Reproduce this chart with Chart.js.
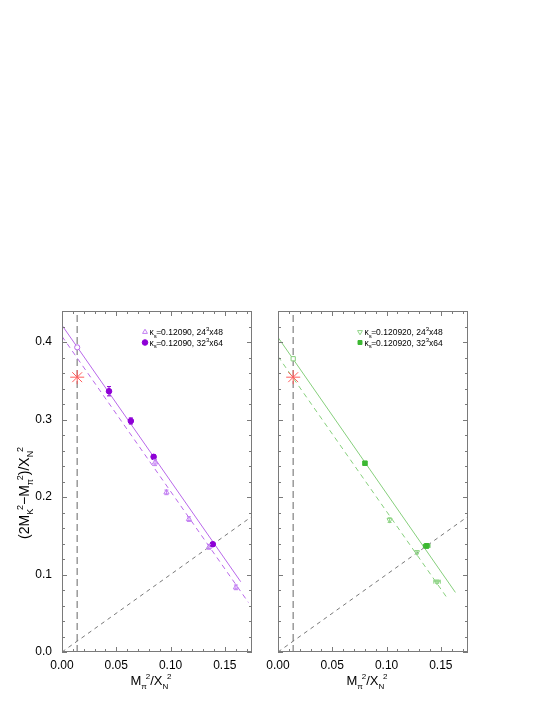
<!DOCTYPE html>
<html lang="en">
<head>
<meta charset="UTF-8">
<title>Chiral fit</title>
<script src="https://cdn.jsdelivr.net/npm/chart.js"></script>
<style>
  body { margin: 0; background: #fff; }
  #wrap { position: relative; width: 545px; height: 705px; }
  canvas { position: absolute; left: 0; top: 0; }
</style>
</head>
<body>
<div id="wrap">
  <canvas id="left" width="545" height="705"></canvas>
  <canvas id="right" width="545" height="705"></canvas>
</div>
<script>
// ---- data ----
const xTicks = [0.00, 0.05, 0.10, 0.15];
const yTicks = [0.0, 0.1, 0.2, 0.3, 0.4];
const physX = 0.0140;          // vertical dashed line, physical point
const starY = [0.3546];        // experimental value (red star)
const diagX = [0.0, 0.175];    // black dashed diagonal (symmetric point)
const diagY = [0.0, 0.175];

// left panel, kappa_s = 0.12090
const l24X = [0.0857, 0.0962, 0.1169, 0.1354, 0.1602];
const l24Y = [0.2445, 0.2060, 0.1715, 0.1356, 0.0834];
const l24Err = [0.004, 0.003, 0.003, 0.003, 0.003];
const l32X = [0.0433, 0.0634, 0.0844, 0.1389];
const l32Y = [0.3365, 0.2981, 0.2518, 0.1391];
const l32Err = [0.006, 0.004, 0.003, 0.002];
const lExtrapY = [0.3931];
const lFitSolidX = [0.0, 0.1646];
const lFitSolidY = [0.4216, 0.0907];
const lFitDashX = [0.0, 0.1717];
const lFitDashY = [0.4073, 0.0639];

// right panel, kappa_s = 0.120920
const r24X = [0.1028, 0.1280, 0.1465];
const r24Y = [0.1702, 0.1287, 0.0907];
const r24Err = [0.003, 0.002, 0.002];
const r24ErrX = [0.0, 0.0, 0.003];
const r32X = [0.0801, 0.1369];
const r32Y = [0.2436, 0.1369];
const r32Err = [0.002, 0.003];
const r32ErrX = [0.0, 0.003];
const rExtrapY = [0.3784];
const rFitSolidX = [0.0, 0.1634];
const rFitSolidY = [0.4060, 0.0769];
const rFitDashX = [0.0, 0.1548];
const rFitDashY = [0.3814, 0.0717];

const FONT = "'Liberation Sans', Arial, Helvetica, sans-serif";
const pts = (xs, ys) => xs.map((x, i) => ({ x: x, y: ys[i] }));

// text with sub/superscripts; parts = [main, sub, sup], sup follows the sub
function richWidth(ctx, parts, size, small) {
  let w = 0;
  parts.forEach(p => {
    ctx.font = size + 'px ' + FONT;
    w += ctx.measureText(p[0]).width;
    ctx.font = small + 'px ' + FONT;
    w += ctx.measureText(p[1]).width * 0.8 + ctx.measureText(p[2]).width;
  });
  return w;
}
function drawRich(ctx, parts, x, y, size, small, align) {
  let cx = align === 'center' ? x - richWidth(ctx, parts, size, small) / 2 : x;
  ctx.textAlign = 'left';
  ctx.textBaseline = 'alphabetic';
  ctx.fillStyle = '#000';
  parts.forEach(p => {
    ctx.font = size + 'px ' + FONT;
    ctx.fillText(p[0], cx, y);
    cx += ctx.measureText(p[0]).width;
    ctx.font = small + 'px ' + FONT;
    if (p[1]) {
      ctx.fillText(p[1], cx, y + size * 0.3);
      cx += ctx.measureText(p[1]).width * 0.8;
    }
    if (p[2]) {
      ctx.fillText(p[2], cx, y - size * 0.45);
      cx += ctx.measureText(p[2]).width;
    }
  });
}

// frame with inward major/minor ticks
const framePlugin = {
  id: 'frame',
  afterDraw(chart) {
    const { ctx, chartArea: a, scales: { x, y } } = chart;
    ctx.save();
    ctx.strokeStyle = '#7a7a7a';
    ctx.lineWidth = 1;
    ctx.strokeRect(a.left + 0.5, a.top + 0.5, a.right - a.left - 1, a.bottom - a.top - 1);
    ctx.beginPath();
    for (let i = 0; i <= 17; i++) {
      const px = Math.round(x.getPixelForValue(i * 0.01)) + 0.5;
      const len = i % 5 === 0 ? 5 : 3;
      ctx.moveTo(px, a.bottom); ctx.lineTo(px, a.bottom - len);
      ctx.moveTo(px, a.top); ctx.lineTo(px, a.top + len);
    }
    for (let j = 0; j <= 22; j++) {
      const py = Math.round(y.getPixelForValue(j * 0.02)) + 0.5;
      const len = j % 5 === 0 ? 5 : 3;
      ctx.moveTo(a.left, py); ctx.lineTo(a.left + len, py);
      ctx.moveTo(a.right, py); ctx.lineTo(a.right - len, py);
    }
    ctx.stroke();
    ctx.restore();
  }
};

// error bars from dataset.errY / dataset.errX
const errorPlugin = {
  id: 'errbars',
  afterDatasetsDraw(chart) {
    const { ctx, scales: { x, y } } = chart;
    ctx.save();
    chart.data.datasets.forEach(ds => {
      if (!ds.errY) return;
      ctx.strokeStyle = ds.errColor;
      ctx.lineWidth = 1;
      ds.data.forEach((p, i) => {
        const px = x.getPixelForValue(p.x);
        const py = y.getPixelForValue(p.y);
        const y1 = y.getPixelForValue(p.y - ds.errY[i]);
        const y2 = y.getPixelForValue(p.y + ds.errY[i]);
        ctx.beginPath();
        ctx.moveTo(px, y1); ctx.lineTo(px, y2);
        ctx.moveTo(px - 2, y1); ctx.lineTo(px + 2, y1);
        ctx.moveTo(px - 2, y2); ctx.lineTo(px + 2, y2);
        if (ds.errX && ds.errX[i]) {
          const x1 = x.getPixelForValue(p.x - ds.errX[i]);
          const x2 = x.getPixelForValue(p.x + ds.errX[i]);
          ctx.moveTo(x1, py); ctx.lineTo(x2, py);
          ctx.moveTo(x1, py - 2); ctx.lineTo(x1, py + 2);
          ctx.moveTo(x2, py - 2); ctx.lineTo(x2, py + 2);
        }
        ctx.stroke();
      });
    });
    ctx.restore();
  }
};

// legend and axis titles
const textPlugin = {
  id: 'texts',
  afterDraw(chart) {
    const { ctx, chartArea: a } = chart;
    const o = chart.options.plugins.texts;
    ctx.save();
    const mid = (a.left + a.right) / 2 - 6;
    drawRich(ctx, [['M', 'π', '2'], ['/X', 'N', '2']], mid, 685, 13, 8, 'center');
    if (o.yTitle) {
      ctx.save();
      ctx.translate(29, 493);
      ctx.rotate(-Math.PI / 2);
      drawRich(ctx, [['(2M', 'K', '2'], ['−M', 'π', '2'], [')/X', 'N', '2']], 0, 0, 14, 9, 'center');
      ctx.restore();
    }
    o.legend.forEach((row, k) => {
      const ly = a.top + 21 + k * 10.5;
      const lx = a.left + o.legendX;
      ctx.fillStyle = row.fill;
      ctx.strokeStyle = row.stroke;
      ctx.lineWidth = 1;
      Chart.helpers.drawPoint(ctx, { pointStyle: row.style, radius: 2.8, rotation: row.rot || 0, borderWidth: 1 }, lx, ly);
      drawRich(ctx, row.parts, lx + 4.5, ly + 3, 8.5, 6, 'left');
    });
    ctx.restore();
  }
};

function makeChart(id, cfg) {
  const padLeft = id === 'left' ? 0 : 278;
  const yWidth = id === 'left' ? 62 : 0;
  const padRight = id === 'left' ? 293 : 77;
  return new Chart(document.getElementById(id), {
    type: 'scatter',
    data: { datasets: cfg.datasets },
    options: {
      responsive: false,
      animation: false,
      devicePixelRatio: 1,
      layout: { padding: { left: padLeft, right: padRight, top: 311, bottom: 13 } },
      plugins: {
        legend: { display: false },
        tooltip: { enabled: false },
        texts: { yTitle: id === 'left', legend: cfg.legend, legendX: cfg.legendX }
      },
      scales: {
        x: {
          type: 'linear', min: 0, max: 0.175,
          grid: { display: false, drawTicks: false },
          border: { display: false },
          afterFit: s => { s.height = 40; },
          afterBuildTicks: s => { s.ticks = xTicks.map(v => ({ value: v })); },
          ticks: {
            padding: 6, color: '#000', font: { family: FONT, size: 12 },
            maxRotation: 0, callback: v => v.toFixed(2)
          }
        },
        y: {
          type: 'linear', min: 0, max: 0.44,
          grid: { display: false, drawTicks: false },
          border: { display: false },
          afterFit: s => { s.width = yWidth; },
          afterBuildTicks: s => { s.ticks = yTicks.map(v => ({ value: v })); },
          ticks: {
            display: id === 'left', padding: 10, color: '#000',
            font: { family: FONT, size: 12 }, callback: v => v.toFixed(1)
          }
        }
      }
    },
    plugins: [errorPlugin, framePlugin, textPlugin]
  });
}

const lineDs = (xs, ys, color, dash, width) => ({
  data: pts(xs, ys), showLine: true, pointRadius: 0, borderColor: color,
  borderWidth: width, borderDash: dash, fill: false
});
const starDs = () => ({
  data: pts([physX], starY), pointStyle: 'star', pointRadius: 7,
  borderColor: '#ff5c5c', backgroundColor: '#ff5c5c', pointBorderWidth: 1
});

const purple = '#8e00d6', lilac = '#c27ff2', lilacLine = '#b968ea';
const green = '#3cb832', lgreen = '#8fd486', lgreenLine = '#86cf7c';

makeChart('left', {
  legendX: 83,
  legend: [
    { style: 'triangle', fill: 'rgba(0,0,0,0)', stroke: lilac,
      parts: [['κ', 's', ''], ['=0.12090, 24', '', '3'], ['x48', '', '']] },
    { style: 'circle', fill: purple, stroke: purple,
      parts: [['κ', 's', ''], ['=0.12090, 32', '', '3'], ['x64', '', '']] }
  ],
  datasets: [
    { data: pts(l32X, l32Y), pointStyle: 'circle', pointRadius: 2.8,
      backgroundColor: purple, borderColor: purple, errY: l32Err, errColor: purple },
    { data: pts(l24X, l24Y), pointStyle: 'triangle', pointRadius: 3,
      backgroundColor: 'rgba(0,0,0,0)', borderColor: lilac, pointBorderWidth: 1,
      errY: l24Err, errColor: lilac },
    { data: pts([physX], lExtrapY), pointStyle: 'circle', pointRadius: 2.6,
      backgroundColor: '#fff', borderColor: lilacLine, pointBorderWidth: 1 },
    starDs(),
    lineDs(lFitSolidX, lFitSolidY, lilacLine, [], 1),
    lineDs(lFitDashX, lFitDashY, lilacLine, [5, 4], 1),
    lineDs(diagX, diagY, '#555', [4, 4], 0.8),
    lineDs([physX, physX], [0, 0.44], '#9a9a9a', [7, 4], 1.5)
  ]
});

makeChart('right', {
  legendX: 82,
  legend: [
    { style: 'triangle', rot: 180, fill: 'rgba(0,0,0,0)', stroke: lgreen,
      parts: [['κ', 's', ''], ['=0.120920, 24', '', '3'], ['x48', '', '']] },
    { style: 'rect', fill: green, stroke: green,
      parts: [['κ', 's', ''], ['=0.120920, 32', '', '3'], ['x64', '', '']] }
  ],
  datasets: [
    { data: pts(r32X, r32Y), pointStyle: 'rect', pointRadius: 3.2,
      backgroundColor: green, borderColor: green, errY: r32Err, errX: r32ErrX, errColor: green },
    { data: pts(r24X, r24Y), pointStyle: 'triangle', rotation: 180, pointRadius: 3,
      backgroundColor: 'rgba(0,0,0,0)', borderColor: lgreen, pointBorderWidth: 1,
      errY: r24Err, errX: r24ErrX, errColor: lgreen },
    { data: pts([physX], rExtrapY), pointStyle: 'rect', pointRadius: 3,
      backgroundColor: '#fff', borderColor: lgreenLine, pointBorderWidth: 1 },
    starDs(),
    lineDs(rFitSolidX, rFitSolidY, lgreenLine, [], 1),
    lineDs(rFitDashX, rFitDashY, lgreenLine, [5, 4], 1),
    lineDs(diagX, diagY, '#555', [4, 4], 0.8),
    lineDs([physX, physX], [0, 0.44], '#9a9a9a', [7, 4], 1.5)
  ]
});
</script>
</body>
</html>
